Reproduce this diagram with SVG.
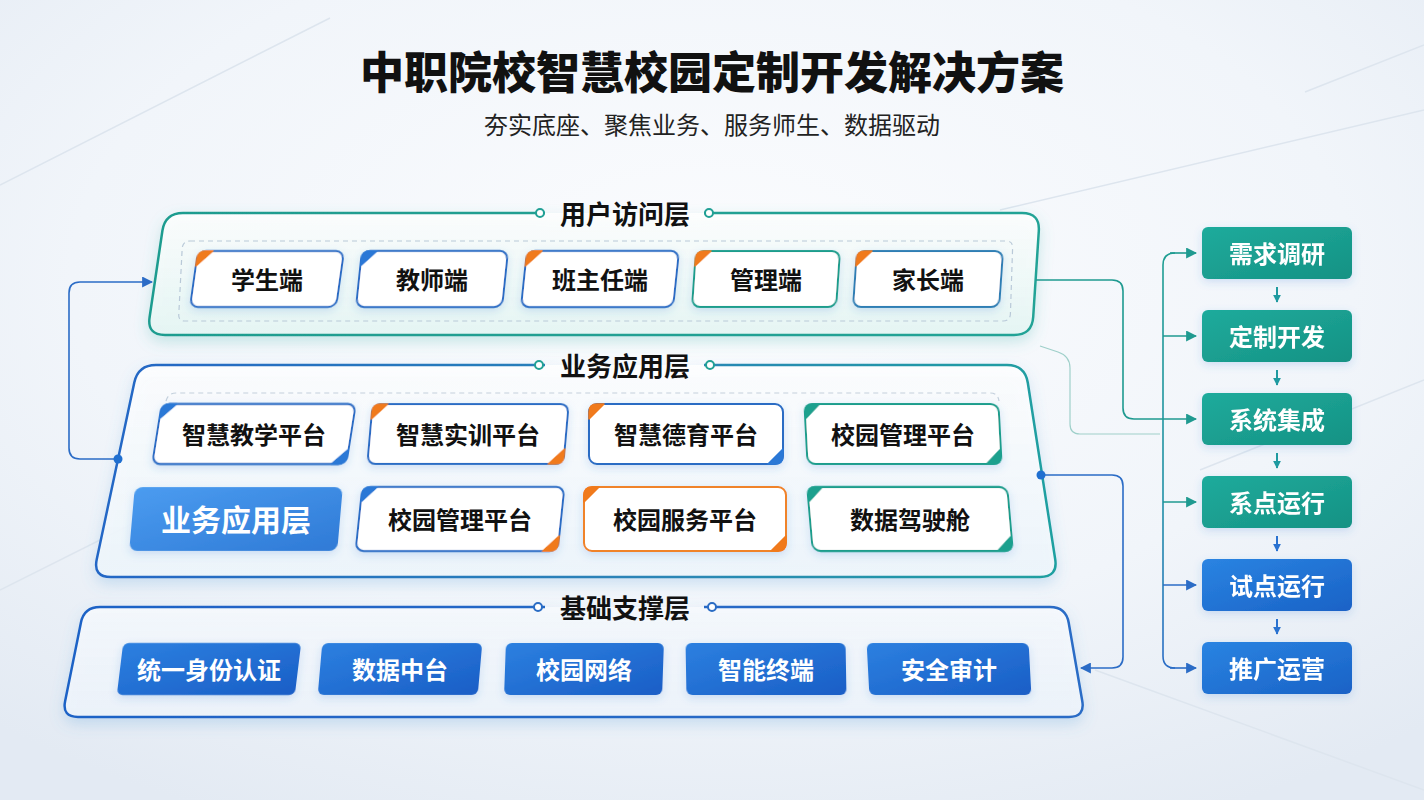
<svg xmlns="http://www.w3.org/2000/svg" width="1424" height="800" viewBox="0 0 1424 800">
<style>
.cn{font-family:"Noto Sans CJK SC","Noto Sans",sans-serif}
.ttl{font-size:44px;font-weight:900;fill:#111;text-anchor:middle;dominant-baseline:central}
.sub{font-size:24px;font-weight:400;fill:#222;text-anchor:middle;dominant-baseline:central}
.lay{font-size:26px;font-weight:700;fill:#111;text-anchor:middle;dominant-baseline:central}
.lbl{font-size:24px;font-weight:600;fill:#111;text-anchor:middle;dominant-baseline:central}
.wlbl{font-size:24px;font-weight:700;fill:#fff;text-anchor:middle;dominant-baseline:central}
.card{fill:#fff;stroke-width:2}
.sb{stroke:#2c6cc4}.so{stroke:#f0832a}.st{stroke:#1f9d8c}.sb2{stroke:#2f7eb4}
.ao{fill:#f07a1c;stroke:#f07a1c;stroke-width:1.5;stroke-linejoin:round}
.ab{fill:#2a78d6;stroke:#2a78d6;stroke-width:1.5;stroke-linejoin:round}
.at{fill:#1ea08e;stroke:#1ea08e;stroke-width:1.5;stroke-linejoin:round}
.fnd{fill:url(#gFound)}
.proT{fill:url(#gTeal)}.proB{fill:url(#gBlue)}
.conT{fill:none;stroke:#1f9a90;stroke-width:1.6}
.conB{fill:none;stroke:#2b6cc6;stroke-width:1.6}
.deco{fill:none;stroke:#dde5ee;stroke-width:1.5}
.dotT{fill:#fff;stroke:#21a095;stroke-width:2}
.dotB{fill:#fff;stroke:#2a6cc4;stroke-width:2}
</style>
<defs>
<radialGradient id="bg" cx="0.5" cy="0.35" r="0.75">
<stop offset="0" stop-color="#fbfcfe"/><stop offset="0.6" stop-color="#f1f5fa"/><stop offset="1" stop-color="#e3eaf3"/>
</radialGradient>
<linearGradient id="gUser" x1="0" y1="0" x2="0" y2="1"><stop offset="0" stop-color="#ffffff" stop-opacity="0.85"/><stop offset="1" stop-color="#e6f6f4" stop-opacity="0.9"/></linearGradient>
<linearGradient id="gBiz" x1="0" y1="0" x2="0" y2="1"><stop offset="0" stop-color="#ffffff" stop-opacity="0.85"/><stop offset="1" stop-color="#eef6fb" stop-opacity="0.9"/></linearGradient>
<linearGradient id="gFnd" x1="0" y1="0" x2="0" y2="1"><stop offset="0" stop-color="#f7fafd" stop-opacity="0.85"/><stop offset="1" stop-color="#eef4fb" stop-opacity="0.9"/></linearGradient>
<linearGradient id="sUser" gradientUnits="userSpaceOnUse" x1="147" y1="0" x2="1040" y2="0"><stop offset="0" stop-color="#1f9c8f"/><stop offset="1" stop-color="#23a396"/></linearGradient>
<linearGradient id="sBiz" gradientUnits="userSpaceOnUse" x1="93" y1="0" x2="1058" y2="0"><stop offset="0" stop-color="#2466c6"/><stop offset="0.6" stop-color="#2a86b6"/><stop offset="1" stop-color="#1fa0a0"/></linearGradient>
<linearGradient id="sFnd" gradientUnits="userSpaceOnUse" x1="62" y1="0" x2="1085" y2="0"><stop offset="0" stop-color="#1e62c6"/><stop offset="1" stop-color="#2a6cc6"/></linearGradient>
<linearGradient id="gBizBox" x1="0" y1="0" x2="1" y2="1"><stop offset="0" stop-color="#4b9cf0"/><stop offset="1" stop-color="#2f7ad6"/></linearGradient>
<linearGradient id="gFound" x1="0" y1="0" x2="1" y2="1"><stop offset="0" stop-color="#2c80e0"/><stop offset="1" stop-color="#1a5ec6"/></linearGradient>
<linearGradient id="gTeal" x1="0" y1="0" x2="1" y2="1"><stop offset="0" stop-color="#1fab9c"/><stop offset="1" stop-color="#159284"/></linearGradient>
<linearGradient id="gBlue" x1="0" y1="0" x2="1" y2="1"><stop offset="0" stop-color="#2a84e2"/><stop offset="1" stop-color="#1a62c6"/></linearGradient>
<linearGradient id="gBus" gradientUnits="userSpaceOnUse" x1="0" y1="253" x2="0" y2="668"><stop offset="0" stop-color="#1f9e92"/><stop offset="0.6" stop-color="#1f8fa6"/><stop offset="1" stop-color="#2a6cc6"/></linearGradient>
<filter id="shLayer" x="-10%" y="-20%" width="120%" height="150%"><feDropShadow dx="0" dy="6" stdDeviation="7" flood-color="#5a9fd8" flood-opacity="0.28"/></filter>
<filter id="shUser" x="-10%" y="-20%" width="120%" height="150%"><feDropShadow dx="0" dy="6" stdDeviation="7" flood-color="#4fb8b0" flood-opacity="0.3"/></filter>
<filter id="shCard" x="-20%" y="-30%" width="140%" height="170%"><feDropShadow dx="0" dy="3" stdDeviation="4" flood-color="#3a7bd5" flood-opacity="0.2"/></filter>
<marker id="arT" viewBox="0 0 10 10" refX="9" refY="5" markerWidth="11" markerHeight="11" markerUnits="userSpaceOnUse" orient="auto"><path d="M0,0 L10,5 L0,10 z" fill="#1f9a90"/></marker>
<marker id="arB" viewBox="0 0 10 10" refX="9" refY="5" markerWidth="11" markerHeight="11" markerUnits="userSpaceOnUse" orient="auto"><path d="M0,0 L10,5 L0,10 z" fill="#2b6cc6"/></marker>
<marker id="arTs" viewBox="0 0 10 10" refX="9" refY="5" markerWidth="8" markerHeight="8" markerUnits="userSpaceOnUse" orient="auto"><path d="M0,0 L10,5 L0,10 z" fill="#1f9aa0"/></marker>
<marker id="arBs" viewBox="0 0 10 10" refX="9" refY="5" markerWidth="8" markerHeight="8" markerUnits="userSpaceOnUse" orient="auto"><path d="M0,0 L10,5 L0,10 z" fill="#2a72d0"/></marker>
</defs>

<rect width="1424" height="800" fill="url(#bg)"/>
<g id="background-lines">
<path class="deco" d="M0,185 L330,18"/>
<path class="deco" d="M0,590 L140,520"/>
<path class="deco" d="M1000,210 L1424,110"/>
<path class="deco" d="M1305,92 L1424,45" stroke="#d4dde8" stroke-width="4"/>
<path class="deco" d="M1095,670 L1424,790"/>
<path class="deco" d="M1200,470 L1424,380"/>
</g>

<g id="title">
<text class="cn ttl" x="712" y="70">中职院校智慧校园定制开发解决方案</text>
<text class="cn sub" x="712" y="123">夯实底座、聚焦业务、服务师生、数据驱动</text>
</g>

<g id="layer-user">
<path d="M704,213 L1022,213 Q1040,213 1038.8,231 L1033.2,317 Q1032,335 1014,335 L165,335 Q147,335 149.6,317.2 L162.4,230.8 Q165,213 183,213 L545,213" fill="url(#gUser)" stroke="url(#sUser)" stroke-width="2.5" filter="url(#shUser)"/>
<path d="M190,241 L1006,241 Q1013,241 1012.6,248 L1010.4,314 Q1010,321 1003,321 L185,321 Q178,321 178.8,314 L182.2,248 Q183,241 190,241 Z" fill="none" stroke="#b9c9d8" stroke-width="1.2" stroke-dasharray="5 4"/>
<circle class="dotT" cx="540" cy="213" r="4"/>
<circle class="dotT" cx="709" cy="213" r="4"/>
<text class="cn lay" x="625" y="212">用户访问层</text>
</g>

<g id="node-student" transform="translate(267,279)">
<g transform="skewX(-8)" filter="url(#shCard)"><rect class="card sb" x="-73" y="-28" width="146" height="56" rx="8"/><path class="ao" d="M-58,-28 L-65,-28 Q-73,-28 -73,-20 L-73,-13 Z"/></g>
<text class="cn lbl" x="0" y="-1">学生端</text>
</g>
<g id="node-teacher" transform="translate(432,279)">
<g transform="skewX(-6)" filter="url(#shCard)"><rect class="card sb" x="-73" y="-28" width="146" height="56" rx="8"/><path class="ab" d="M-58,-28 L-65,-28 Q-73,-28 -73,-20 L-73,-13 Z"/></g>
<text class="cn lbl" x="0" y="-1">教师端</text>
</g>
<g id="node-headteacher" transform="translate(600,279)">
<g transform="skewX(-6)" filter="url(#shCard)"><rect class="card sb" x="-76" y="-28" width="152" height="56" rx="8"/><path class="ao" d="M-61,-28 L-68,-28 Q-76,-28 -76,-20 L-76,-13 Z"/></g>
<text class="cn lbl" x="0" y="-1">班主任端</text>
</g>
<g id="node-admin" transform="translate(766,279)">
<g transform="skewX(-4)" filter="url(#shCard)"><rect class="card st" x="-72" y="-28" width="144" height="56" rx="8"/><path class="ao" d="M-57,-28 L-64,-28 Q-72,-28 -72,-20 L-72,-13 Z"/></g>
<text class="cn lbl" x="0" y="-1">管理端</text>
</g>
<g id="node-parent" transform="translate(928,279)">
<g transform="skewX(-4)" filter="url(#shCard)"><rect class="card sb2" x="-73" y="-28" width="146" height="56" rx="8"/><path class="ao" d="M-58,-28 L-65,-28 Q-73,-28 -73,-20 L-73,-13 Z"/></g>
<text class="cn lbl" x="0" y="-1">家长端</text>
</g>

<g id="layer-business">
<path d="M704,365 L1007,365 Q1025,365 1027.8,382.8 L1055.2,559.2 Q1058,577 1040,577 L111,577 Q93,577 96.7,559.4 L134.3,382.6 Q138,365 156,365 L545,365" fill="url(#gBiz)" stroke="url(#sBiz)" stroke-width="2.5" filter="url(#shLayer)"/>
<path d="M166,401 Q168,393 176,393 L990,393 Q998,393 999,401" fill="none" stroke="#c3d0dc" stroke-width="1.2" stroke-dasharray="5 4"/>
<circle class="dotT" cx="539" cy="365" r="4"/>
<circle class="dotT" cx="710" cy="365" r="4"/>
<text class="cn lay" x="625" y="364">业务应用层</text>
</g>

<g id="node-teaching" transform="translate(254,434)">
<g transform="skewX(-9)" filter="url(#shCard)"><rect class="card sb" x="-97" y="-30" width="194" height="60" rx="8"/><path class="ab" d="M-82,-30 L-89,-30 Q-97,-30 -97,-22 L-97,-15 Z"/><path class="ab" d="M82,30 L89,30 Q97,30 97,22 L97,15 Z"/></g>
<text class="cn lbl" x="0" y="-1">智慧教学平台</text>
</g>
<g id="node-training" transform="translate(468,434)">
<g transform="skewX(-5)" filter="url(#shCard)"><rect class="card sb" x="-98" y="-30" width="196" height="60" rx="8"/><path class="ao" d="M-83,-30 L-90,-30 Q-98,-30 -98,-22 L-98,-15 Z"/><path class="ao" d="M83,30 L90,30 Q98,30 98,22 L98,15 Z"/></g>
<text class="cn lbl" x="0" y="-1">智慧实训平台</text>
</g>
<g id="node-moral" transform="translate(686,434)">
<g filter="url(#shCard)"><rect class="card sb" x="-97" y="-30" width="194" height="60" rx="8"/><path class="ao" d="M-82,-30 L-89,-30 Q-97,-30 -97,-22 L-97,-15 Z"/><path class="ab" d="M82,30 L89,30 Q97,30 97,22 L97,15 Z"/></g>
<text class="cn lbl" x="0" y="-1">智慧德育平台</text>
</g>
<g id="node-campus-mgmt-1" transform="translate(903,434)">
<g transform="skewX(3)" filter="url(#shCard)"><rect class="card st" x="-97" y="-30" width="194" height="60" rx="8"/><path class="at" d="M-82,-30 L-89,-30 Q-97,-30 -97,-22 L-97,-15 Z"/><path class="at" d="M82,30 L89,30 Q97,30 97,22 L97,15 Z"/></g>
<text class="cn lbl" x="0" y="-1">校园管理平台</text>
</g>

<g id="node-biz-label" transform="translate(236,519)">
<g transform="skewX(-5)" filter="url(#shCard)"><rect x="-104" y="-32" width="208" height="64" rx="8" fill="url(#gBizBox)"/></g>
<text class="cn wlbl" x="0" y="-1" style="font-size:30px">业务应用层</text>
</g>
<g id="node-campus-mgmt-2" transform="translate(460,519)">
<g transform="skewX(-6)" filter="url(#shCard)"><rect class="card sb" x="-101" y="-32" width="202" height="64" rx="8"/><path class="ab" d="M-86,-32 L-93,-32 Q-101,-32 -101,-24 L-101,-17 Z"/><path class="ao" d="M86,32 L93,32 Q101,32 101,24 L101,17 Z"/></g>
<text class="cn lbl" x="0" y="-1">校园管理平台</text>
</g>
<g id="node-campus-service" transform="translate(685,519)">
<g filter="url(#shCard)"><rect class="card so" x="-101" y="-32" width="202" height="64" rx="8"/><path class="ao" d="M-86,-32 L-93,-32 Q-101,-32 -101,-24 L-101,-17 Z"/><path class="ao" d="M86,32 L93,32 Q101,32 101,24 L101,17 Z"/></g>
<text class="cn lbl" x="0" y="-1">校园服务平台</text>
</g>
<g id="node-cockpit" transform="translate(910,519)">
<g transform="skewX(5)" filter="url(#shCard)"><rect class="card st" x="-100" y="-32" width="200" height="64" rx="8"/><path class="at" d="M-85,-32 L-92,-32 Q-100,-32 -100,-24 L-100,-17 Z"/><path class="at" d="M85,32 L92,32 Q100,32 100,24 L100,17 Z"/></g>
<text class="cn lbl" x="0" y="-1">数据驾驶舱</text>
</g>

<g id="layer-foundation">
<path d="M704,607 L1050,607 Q1066,607 1068.7,622.8 L1082.3,701.2 Q1085,717 1069,717 L78,717 Q62,717 65.1,701.3 L80.9,622.7 Q84,607 100,607 L545,607" fill="url(#gFnd)" stroke="url(#sFnd)" stroke-width="2.5" filter="url(#shLayer)"/>
<circle class="dotB" cx="538" cy="607" r="4"/>
<circle class="dotB" cx="712" cy="607" r="4"/>
<text class="cn lay" x="625" y="606">基础支撑层</text>
</g>

<g id="node-identity" transform="translate(209,669)">
<g transform="skewX(-7)" filter="url(#shCard)"><rect class="fnd" x="-89" y="-26" width="178" height="52" rx="6"/></g>
<text class="cn wlbl" x="0" y="-1">统一身份认证</text>
</g>
<g id="node-data-hub" transform="translate(400,669)">
<g transform="skewX(-5)" filter="url(#shCard)"><rect class="fnd" x="-80" y="-26" width="160" height="52" rx="6"/></g>
<text class="cn wlbl" x="0" y="-1">数据中台</text>
</g>
<g id="node-network" transform="translate(584,669)">
<g transform="skewX(-2)" filter="url(#shCard)"><rect class="fnd" x="-79" y="-26" width="158" height="52" rx="6"/></g>
<text class="cn wlbl" x="0" y="-1">校园网络</text>
</g>
<g id="node-terminal" transform="translate(766,669)">
<g transform="skewX(1)" filter="url(#shCard)"><rect class="fnd" x="-80" y="-26" width="160" height="52" rx="6"/></g>
<text class="cn wlbl" x="0" y="-1">智能终端</text>
</g>
<g id="node-audit" transform="translate(949,669)">
<g transform="skewX(3)" filter="url(#shCard)"><rect class="fnd" x="-81" y="-26" width="162" height="52" rx="6"/></g>
<text class="cn wlbl" x="0" y="-1">安全审计</text>
</g>

<g id="process">
<g id="step-research" filter="url(#shCard)"><rect class="proT" x="1202" y="227" width="150" height="52" rx="6"/><text class="cn wlbl" x="1277" y="252">需求调研</text></g>
<g id="step-develop" filter="url(#shCard)"><rect class="proT" x="1202" y="310" width="150" height="52" rx="6"/><text class="cn wlbl" x="1277" y="335">定制开发</text></g>
<g id="step-integrate" filter="url(#shCard)"><rect class="proT" x="1202" y="393" width="150" height="52" rx="6"/><text class="cn wlbl" x="1277" y="418">系统集成</text></g>
<g id="step-run" filter="url(#shCard)"><rect class="proT" x="1202" y="476" width="150" height="52" rx="6"/><text class="cn wlbl" x="1277" y="501">系点运行</text></g>
<g id="step-pilot" filter="url(#shCard)"><rect class="proB" x="1202" y="559" width="150" height="52" rx="6"/><text class="cn wlbl" x="1277" y="584">试点运行</text></g>
<g id="step-promote" filter="url(#shCard)"><rect class="proB" x="1202" y="642" width="150" height="52" rx="6"/><text class="cn wlbl" x="1277" y="667">推广运营</text></g>
</g>

<g id="connectors">
<path d="M1277,287 L1277,302" stroke="#1f9aa0" stroke-width="2" marker-end="url(#arTs)"/>
<path d="M1277,370 L1277,385" stroke="#1f9aa0" stroke-width="2" marker-end="url(#arTs)"/>
<path d="M1277,453 L1277,468" stroke="#1f9aa0" stroke-width="2" marker-end="url(#arTs)"/>
<path d="M1277,536 L1277,551" stroke="#2a72d0" stroke-width="2" marker-end="url(#arBs)"/>
<path d="M1277,619 L1277,634" stroke="#2a72d0" stroke-width="2" marker-end="url(#arBs)"/>

<path d="M1175,253 Q1163,253 1163,265 L1163,656 Q1163,668 1175,668" fill="none" stroke="url(#gBus)" stroke-width="1.6"/>
<path class="conT" d="M1170,253 L1196,253" marker-end="url(#arT)"/>
<path class="conT" d="M1163,336 L1196,336" marker-end="url(#arT)"/>
<path class="conT" d="M1163,419 L1196,419" marker-end="url(#arT)"/>
<path class="conT" d="M1163,502 L1196,502" marker-end="url(#arT)"/>
<path class="conB" d="M1163,585 L1196,585" marker-end="url(#arB)"/>
<path class="conB" d="M1170,668 L1196,668" marker-end="url(#arB)"/>

<path class="conT" d="M1036,280 L1112,280 Q1123,280 1123,291 L1123,408 Q1123,419 1134,419 L1163,419"/>
<path d="M1040,346 L1058,352 Q1070,356 1070,368 L1070,424 Q1070,434 1080,434 L1160,434" fill="none" stroke="#9fd0ca" stroke-width="1.2"/>

<path class="conB" d="M1041,475 L1112,475 Q1123,475 1123,486 L1123,657 Q1123,668 1112,668 L1081,668" marker-end="url(#arB)"/>
<circle cx="1041" cy="475" r="4.5" fill="#1f6fd0"/>

<path class="conB" d="M118,459 L80,459 Q69,459 69,448 L69,293 Q69,282 80,282 L152,282" marker-end="url(#arB)"/>
<circle cx="118" cy="459" r="4.5" fill="#1f6fd0"/>
</g>
</svg>
